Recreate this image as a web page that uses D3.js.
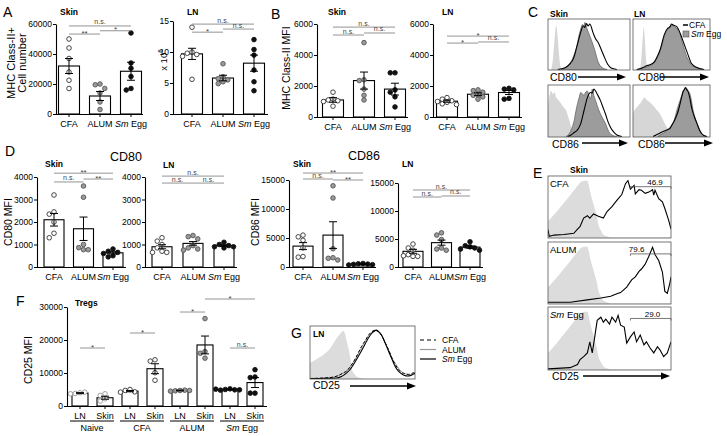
<!DOCTYPE html>
<html><head><meta charset="utf-8">
<script src="https://cdn.jsdelivr.net/npm/d3@7"></script>
<style>body{margin:0;background:#fff}svg{display:block}text{font-family:"Liberation Sans",Arial,Helvetica,sans-serif}</style>
</head><body>
<script>
// ---------------- DATA ----------------
const groups3 = ["CFA","ALUM","Sm Egg"];

// A: MHC Class-II+ cell number
const aSkinTicks=[0,20000,40000,60000];
const aSkinMean=[32000,12000,28500];
const aSkinSem=[5000,3000,6000];
const aSkinPts=[[50000,44000,37000,28000,22500,17000],[20000,19500,17000,14000,8000,3000],[54000,34000,30500,25000,17000,16000]];
const aSkinSig=[[0,2,58700,"n.s."],[0,1,53300,"**"],[1,2,55500,"*"]];

const aLnTicks=[0,5,10,15];
const aLnMean=[9.7,5.8,8.2];
const aLnSem=[0.9,0.45,1.3];
const aLnPts=[[14,10,9.8,9.6,9.3,5.6],[8.1,6,5.7,5.5,5.2,4.9],[12,10.4,9.5,7.1,5.2,3.75]];
const aLnSig=[[0,2,14.5,"n.s."],[0,1,13.2,"*"],[1,2,13.7,"n.s."]];

// B: MHC Class-II MFI
const bTicks=[0,2000,4000,6000];
const bSkinMean=[1100,2350,1800];
const bSkinSem=[150,550,380];
const bSkinPts=[[1600,1150,1100,1050,1000,700],[4800,2400,2350,1800,1400,1100],[2850,2850,1750,1600,1300,650]];
const bSkinSig=[[0,2,5800,"n.s."],[0,1,5290,"n.s."],[1,2,5420,"n.s."]];
const bLnMean=[1020,1470,1580];
const bLnSem=[70,90,130];
const bLnPts=[[1250,1150,1050,1000,950,850,800],[1750,1700,1600,1450,1400,1300,1150],[1850,1800,1750,1200,1150]];
const bLnSig=[[0,2,5220,"*"],[0,1,4770,"*"],[1,2,4840,"n.s."]];

// D: CD80 / CD86 MFI
const d80Ticks=[0,1000,2000,3000,4000];
const d80SkinMean=[2100,1700,630];
const d80SkinSem=[280,520,50];
const d80SkinPts=[[3200,2450,2350,2000,1500,1300],[3600,3100,1000,860,770,770],[800,700,650,600,500,450]];
const d80SkinSig=[[0,2,4170,"**"],[0,1,3780,"n.s."],[1,2,3910,"**"]];
const d80LnMean=[900,1050,950];
const d80LnSem=[90,80,40];
const d80LnPts=[[1300,1150,1000,850,700,650,650],[1400,1350,1250,950,850,800,750],[1100,1000,950,900,900,850]];
const d80LnSig=[[0,2,4040,"n.s."],[0,1,3730,"n.s."],[1,2,3730,"n.s."]];
const d86Ticks=[0,5000,10000,15000];
const d86SkinMean=[3600,5500,450];
const d86SkinSem=[600,2300,80];
const d86SkinPts=[[5500,5200,4600,3300,1800,1700],[14000,11900,3150,1600,1500,1200],[600,550,500,450,400,350]];
const d86SkinSig=[[0,2,16200,"**"],[0,1,15170,"n.s."],[1,2,15000,"**"]];
const d86LnMean=[2800,4350,3550];
const d86LnSem=[350,450,200];
const d86LnPts=[[4100,3400,3000,2200,1900,1900,2000],[6100,5700,4900,3400,3200,3000],[4500,3800,3600,3400,3200,3000]];
const d86LnSig=[[0,2,13750,"n.s."],[0,1,12500,"n.s."],[1,2,12680,"n.s."]];

// F: CD25 MFI Tregs
const fGroups=["Naive","CFA","ALUM","Sm Egg"];
const fTissues=["LN","Skin","LN","Skin","LN","Skin","LN","Skin"];
const fTicks=[0,10000,20000,30000];
const fMean=[3900,2500,4500,11300,4700,18500,5000,7100];
const fSem=[150,450,200,1500,100,2700,100,1500];
const fPts=[[4000,3800,4200,3700],[3700,3200,2200,1500],[5000,4700,4300,4200],[14000,13600,10100,7800],[4700,4600,4800,4500,4700],[26500,16500,16000,14500],[5200,5000,4900,4800,4900,5100],[11000,8800,8600,3900,3900]];
const fSig=[[0,1,17570,"*"],[2,3,22120,"*"],[4,5,28480,"*"],[5,7,32420,"*"],[6,7,17570,"n.s."]];

// C: histograms [channel %, count % of max]
const cSkinCD80Iso=[[4,0],[6,20],[8,60],[10,89],[12,60],[14,20],[16,0]];
const cSkinCD80Sm=[[16,0],[22,4],[27,13],[31,26],[35,46],[38,70],[40,82],[42,91],[44,88],[45,95],[47,85],[49,76],[53,59],[57,39],[61,16],[66,4],[72,0]];
const cSkinCD80CFA=[[12,0],[20,3],[27,12],[31,22],[35,45],[39,70],[43,88],[45,85],[47,93],[49,88],[51,92],[55,74],[58,62],[61,55],[65,40],[69,24],[73,10],[77,3],[84,0]];
const cLnCD80Iso=[[9,0],[11,25],[13,70],[14,86],[15,70],[17,20],[19,0]];
const cLnCD80Sm=[[5,0],[12,3],[22,7],[30,20],[37,46],[41,69],[46,82],[50,90],[54,87],[58,80],[61,72],[64,55],[67,39],[74,13],[83,3],[92,0]];
const cLnCD80CFA=[[5,0],[10,2],[17,7],[24,11],[28,16],[32,28],[35,39],[41,72],[45,83],[48,86],[50,92],[52,90],[57,86],[60,78],[63,66],[70,36],[76,12],[83,4],[92,0]];
const cSkinCD86Iso=[[0,60],[2,82],[4,90],[6,84],[8,88],[10,77],[13,72],[16,65],[19,58],[22,52],[24,42],[26,32],[28,20],[30,12],[33,4],[37,0]];
const cSkinCD86Sm=[[22,0],[26,6],[29,16],[32,32],[34,50],[36,65],[38,77],[40,87],[42,84],[44,82],[46,88],[48,90],[50,80],[52,75],[54,94],[56,80],[58,71],[62,52],[66,38],[70,26],[74,10],[78,3],[84,0]];
const cSkinCD86CFA=[[24,0],[28,3],[32,8],[36,13],[40,26],[44,52],[48,77],[52,87],[54,86],[56,94],[58,90],[60,84],[64,71],[67,58],[70,45],[73,30],[76,19],[80,9],[84,3],[90,0]];
const cLnCD86Iso=[[0,45],[2,52],[5,58],[9,65],[12,72],[15,77],[18,72],[22,68],[25,63],[28,58],[31,52],[35,45],[38,36],[41,26],[45,16],[48,10],[52,3],[57,0]];
const cLnCD86Sm=[[32,0],[35,3],[40,7],[43,10],[48,18],[52,26],[55,40],[57,52],[59,62],[61,71],[63,80],[65,90],[67,94],[69,96],[70,95],[72,90],[74,84],[76,70],[78,52],[81,35],[85,19],[88,9],[91,3],[96,0]];
const cLnCD86CFA=[[26,0],[30,3],[35,7],[39,10],[44,13],[48,16],[51,24],[54,32],[57,43],[59,52],[61,64],[63,77],[65,88],[67,94],[68,97],[70,92],[72,87],[74,75],[76,58],[79,42],[83,26],[86,14],[89,6],[92,2],[96,0]];

// E: CD25 skin histograms
const eIso=[[0,27],[5,38],[10,50],[14,60],[18,70],[22,80],[25,88],[27,92],[29,94],[32,94],[33,88],[34,78],[36,62],[38,48],[40,32],[41,21],[43,12],[45,5],[48,2],[51,0],[100,0]];
const eCFA=[[0,13],[1,2],[5,4],[13,5],[21,7],[24,14],[26,18],[29,32],[32,36],[34,32],[37,39],[41,35],[45,32],[48,43],[52,51],[55,59],[57,64],[60,71],[63,89],[65,94],[67,80],[70,86],[71,72],[74,79],[76,78],[79,73],[82,75],[85,79],[86,70],[87,78],[90,64],[93,59],[95,48],[98,29],[100,14]];
const eALUM=[[0,2],[18,2],[32,6],[43,9],[51,12],[56,16],[59,18],[64,27],[68,39],[71,44],[74,53],[76,57],[79,65],[82,78],[85,93],[87,81],[90,71],[93,52],[95,20],[97,17],[99,33],[100,44]];
const eSm=[[0,1],[18,3],[24,8],[26,16],[29,21],[32,27],[34,45],[36,27],[38,53],[40,80],[43,85],[45,77],[47,82],[50,74],[52,85],[55,77],[57,88],[59,72],[62,69],[64,43],[67,53],[70,61],[72,45],[75,56],[78,40],[80,45],[83,35],[86,27],[89,37],[91,32],[94,21],[97,27],[100,45]];
const eGates=[[67,100,87,"46.9"],[67,100,72,"79.6"],[67,100,85,"29.0"]];

// G: LN CD25 histograms
const gIso=[[0,30],[5,36],[10,42],[15,50],[19,58],[22,67],[25,77],[28,85],[30,90],[32,92],[33,89],[35,72],[37,55],[39,32],[40,17],[43,7],[46,2],[51,0]];
const gSm=[[0,0],[25,1],[30,4],[35,11],[38,17],[41,26],[44,36],[48,50],[51,61],[54,73],[57,83],[60,90],[63,94],[65,92],[68,85],[71,72],[75,52],[78,38],[81,24],[84,15],[86,11],[90,6],[93,5],[96,6],[98,8],[100,10]];
const gCFA=[[0,0],[20,2],[26,5],[31,10],[35,15],[39,25],[43,38],[46,50],[49,62],[53,75],[56,85],[59,91],[62,94],[65,91],[68,84],[71,72],[75,55],[78,40],[81,28],[84,18],[87,12],[91,9],[94,8],[97,10],[100,12]];
const gALUM=[[0,0],[20,2],[26,5],[31,10],[37,18],[40,28],[44,40],[47,52],[50,63],[53,74],[56,84],[59,90],[62,93],[65,90],[68,84],[71,71],[75,55],[78,40],[82,27],[85,18],[88,12],[91,9],[94,7],[97,8],[100,9]];

// ---------------- DRAWING ----------------
const FONT='"Liberation Sans",Arial,Helvetica,sans-serif';
const svg=d3.select("body").append("svg").attr("width",727).attr("height",436);
const defs=svg.append("defs");
const ptStyle={"CFA":{f:"#fff",s:"#333"},"ALUM":{f:"#9a9a9a",s:"#555"},"Sm Egg":{f:"#111",s:"#111"},"Naive":{f:"#fff",s:"#9a9a9a"}};

function label(g,x,y,txt,size,opt={}){
  const t=g.append("text").attr("x",x).attr("y",y).attr("font-size",size).attr("text-anchor",opt.anchor||"start");
  if(opt.bold) t.attr("font-weight","bold");
  if(opt.rot) t.attr("transform",`rotate(-90,${x},${y})`);
  if(txt.startsWith("Sm ")){t.append("tspan").attr("font-style","italic").text("Sm");t.append("tspan").text(" "+txt.slice(3));}
  else t.text(txt);
  return t;
}
function dodge(ys,r){
  const placed=[],out=[];
  ys.forEach(y=>{
    let off=0;
    for(let k=0;k<14;k++){
      const c=k===0?0:(k%2?-1:1)*Math.ceil(k/2)*(r*1.9);
      if(placed.every(p=>Math.hypot(p[0]-c,p[1]-y)>=2*r-0.4)){off=c;break;}
    }
    placed.push([off,y]);out.push(off);
  });
  return out;
}
function barPanel(o){
  const g=svg.append("g");
  const n=o.mean.length;
  const y=d3.scaleLinear().domain([0,o.max]).range([o.yb,o.yt]);
  const x=d3.scalePoint().domain(d3.range(n)).range([o.c0,o.c1]);
  g.selectAll("rect.bar").data(o.mean).join("rect").attr("class","bar")
    .attr("x",(d,i)=>x(i)-o.bw/2).attr("y",d=>y(d)).attr("width",o.bw).attr("height",d=>o.yb-y(d))
    .attr("fill","#fff").attr("stroke","#000").attr("stroke-width",1.1);
  o.pts.forEach((arr,i)=>{
    const st=ptStyle[o.style[i]];
    const offs=dodge(arr.map(v=>y(v)),2.5);
    g.selectAll(null).data(arr).join("circle").attr("cx",(d,j)=>x(i)+offs[j]).attr("cy",d=>y(d))
      .attr("r",2.3).attr("fill",st.f).attr("stroke",st.s).attr("stroke-width",0.9);
  });
  o.mean.forEach((m,i)=>{
    const cx=x(i),s=o.sem[i];
    g.append("line").attr("x1",cx).attr("x2",cx).attr("y1",y(m-s)).attr("y2",y(m+s)).attr("stroke","#000").attr("stroke-width",1);
    [m-s,m+s].forEach(v=>g.append("line").attr("x1",cx-4).attr("x2",cx+4).attr("y1",y(v)).attr("y2",y(v)).attr("stroke","#000").attr("stroke-width",1));
  });
  const ax=g.append("g").attr("transform",`translate(${o.x0},0)`)
    .call(d3.axisLeft(y).tickValues(o.ticks).tickSize(3).tickSizeOuter(0).tickPadding(1).tickFormat(d=>d));
  ax.attr("font-family",FONT).attr("font-size",8.5);
  ax.select(".domain").attr("stroke","#000").attr("stroke-width",1.1);
  g.append("line").attr("x1",o.x0).attr("x2",o.x1).attr("y1",o.yb+0.5).attr("y2",o.yb+0.5).attr("stroke","#000").attr("stroke-width",1.1);
  d3.range(n).forEach(i=>{
    g.append("line").attr("x1",x(i)).attr("x2",x(i)).attr("y1",o.yb).attr("y2",o.yb+3).attr("stroke","#000");
    label(g,x(i),o.yb+13,o.cats[i],9,{anchor:"middle"});
  });
  o.sig.forEach(([a,b,v,t])=>{
    const yy=y(v);
    g.append("line").attr("x1",x(a)).attr("x2",x(b)).attr("y1",yy).attr("y2",yy).attr("stroke","#888").attr("stroke-width",0.9);
    g.append("text").attr("x",(x(a)+x(b))/2).attr("y",t==="n.s."?yy-1.5:yy+1.5).attr("text-anchor","middle")
      .attr("font-size",t==="n.s."?7:8).attr("fill","#444").text(t);
  });
  if(o.title) label(g,o.tx,o.ty,o.title,8.5,{bold:true});
  return {g,x,y};
}
const s3=groups3;
barPanel({x0:56,x1:143,c0:69,c1:131,bw:21,yb:114,yt:24,max:60000,ticks:aSkinTicks,cats:groups3,style:s3,mean:aSkinMean,sem:aSkinSem,pts:aSkinPts,sig:aSkinSig,title:"Skin",tx:60,ty:15});
barPanel({x0:173,x1:268,c0:192,c1:254,bw:21,yb:114,yt:21,max:15,ticks:aLnTicks,cats:groups3,style:s3,mean:aLnMean,sem:aLnSem,pts:aLnPts,sig:aLnSig,title:"LN",tx:187,ty:15});
barPanel({x0:317,x1:408,c0:333,c1:395,bw:21,yb:117,yt:24,max:6000,ticks:bTicks,cats:groups3,style:s3,mean:bSkinMean,sem:bSkinSem,pts:bSkinPts,sig:bSkinSig,title:"Skin",tx:328,ty:15});
barPanel({x0:433,x1:522,c0:447,c1:509,bw:21,yb:117,yt:24,max:6000,ticks:bTicks,cats:groups3,style:s3,mean:bLnMean,sem:bLnSem,pts:bLnPts,sig:bLnSig,title:"LN",tx:442,ty:15});
barPanel({x0:37,x1:126,c0:54,c1:113,bw:20,yb:267,yt:177,max:4000,ticks:d80Ticks,cats:groups3,style:s3,mean:d80SkinMean,sem:d80SkinSem,pts:d80SkinPts,sig:d80SkinSig,title:"Skin",tx:45,ty:167});
barPanel({x0:145,x1:237,c0:162,c1:224,bw:20,yb:267,yt:177,max:4000,ticks:d80Ticks,cats:groups3,style:s3,mean:d80LnMean,sem:d80LnSem,pts:d80LnPts,sig:d80LnSig,title:"LN",tx:163,ty:168});
barPanel({x0:289,x1:376,c0:303,c1:363,bw:20,yb:267,yt:180,max:15000,ticks:d86Ticks,cats:groups3,style:s3,mean:d86SkinMean,sem:d86SkinSem,pts:d86SkinPts,sig:d86SkinSig,title:"Skin",tx:293,ty:167});
barPanel({x0:398,x1:483,c0:413,c1:470,bw:20,yb:267,yt:183,max:15000,ticks:d86Ticks,cats:groups3,style:s3,mean:d86LnMean,sem:d86LnSem,pts:d86LnPts,sig:d86LnSig,title:"LN",tx:402,ty:167});
const fp=barPanel({x0:67,x1:267,c0:80,c1:255,bw:16,yb:406,yt:307,max:30000,ticks:fTicks,cats:fTissues,style:fTissues.map((t,i)=>fGroups[Math.floor(i/2)]),mean:fMean,sem:fSem,pts:fPts,sig:fSig,title:"Tregs",tx:75,ty:306});
fGroups.forEach((gname,k)=>{
  const xa=fp.x(2*k)-10,xb=fp.x(2*k+1)+9;
  fp.g.append("line").attr("x1",xa).attr("x2",xb).attr("y1",421).attr("y2",421).attr("stroke","#000").attr("stroke-width",1);
  label(fp.g,(xa+xb)/2,431,gname,9,{anchor:"middle"});
});

// axis titles & panel letters
const ann=svg.append("g");
label(ann,15,63,"MHC Class-II+",11,{anchor:"middle",rot:true});
label(ann,26,63,"Cell number",11,{anchor:"middle",rot:true});
const t6=ann.append("text").attr("x",167).attr("y",60).attr("font-size",9.5).attr("text-anchor","middle").attr("transform","rotate(-90,167,60)");
t6.append("tspan").text("x 10");t6.append("tspan").attr("font-size",6.5).attr("dy",-4).text("6");
label(ann,290,68,"MHC Class-II MFI",10.5,{anchor:"middle",rot:true});
label(ann,12,222,"CD80 MFI",10.5,{anchor:"middle",rot:true});
label(ann,259,222,"CD86 MFI",10.5,{anchor:"middle",rot:true});
label(ann,32,360,"CD25 MFI",10.5,{anchor:"middle",rot:true});
label(ann,126,161,"CD80",12.5,{anchor:"middle"});
label(ann,364,160,"CD86",12.5,{anchor:"middle"});
[["A",3,17],["B",271,19],["C",528,17],["D",5,156],["E",533,178],["F",16,306],["G",291,338]].forEach(([l,x,y])=>label(ann,x,y,l,14));

// ---------------- HISTOGRAMS ----------------
let clipN=0;
function histBox(o){
  const g=svg.append("g");
  const id="clip"+(clipN++);
  defs.append("clipPath").attr("id",id).append("rect").attr("x",o.x0).attr("y",o.y0).attr("width",o.x1-o.x0).attr("height",o.y1-o.y0);
  const x=d3.scaleLinear().domain([0,100]).range([o.x0,o.x1]);
  const y=d3.scaleLinear().domain([0,100]).range([o.y1-0.5,o.y0+1]);
  const gc=g.append("g").attr("clip-path",`url(#${id})`);
  o.layers.forEach(L=>{
    const curve=L.curve||d3.curveMonotoneX;
    if(L.type==="area"){
      gc.append("path").datum(L.data).attr("d",d3.area().x(d=>x(d[0])).y0(o.y1).y1(d=>y(d[1])).curve(curve))
        .attr("fill",L.fill).attr("stroke",L.stroke||"none").attr("stroke-width",L.sw||0.8);
    } else {
      gc.append("path").datum(L.data).attr("d",d3.line().x(d=>x(d[0])).y(d=>y(d[1])).curve(curve))
        .attr("fill","none").attr("stroke",L.stroke).attr("stroke-width",L.sw||1.1).attr("stroke-dasharray",L.dash||null);
    }
  });
  g.append("rect").attr("x",o.x0).attr("y",o.y0).attr("width",o.x1-o.x0).attr("height",o.y1-o.y0).attr("fill","none").attr("stroke","#555").attr("stroke-width",0.8);
  return {g,x,y};
}
function arrow(x1,x2,yy){
  svg.append("line").attr("x1",x1).attr("x2",x2-6).attr("y1",yy).attr("y2",yy).attr("stroke","#000").attr("stroke-width",1.4);
  svg.append("path").attr("d",`M${x2},${yy}L${x2-9},${yy-3.5}L${x2-9},${yy+3.5}Z`).attr("fill","#000");
}
const ISO="#d6d6d6",SMF="#9c9c9c";
const cLayers=(iso,sm,cfa)=>[{type:"area",data:iso,fill:ISO},{type:"area",data:sm,fill:SMF,stroke:"#666"},{type:"line",data:cfa,stroke:"#000",sw:1.1}];
histBox({x0:548,x1:630,y0:19,y1:70,layers:cLayers(cSkinCD80Iso,cSkinCD80Sm,cSkinCD80CFA)});
histBox({x0:633,x1:710,y0:19,y1:70,layers:cLayers(cLnCD80Iso,cLnCD80Sm,cLnCD80CFA)});
histBox({x0:548,x1:630,y0:85,y1:137,layers:cLayers(cSkinCD86Iso,cSkinCD86Sm,cSkinCD86CFA)});
histBox({x0:633,x1:710,y0:85,y1:137,layers:cLayers(cLnCD86Iso,cLnCD86Sm,cLnCD86CFA)});
label(svg,550,17,"Skin",8.5,{bold:true});
label(svg,634,17,"LN",8.5,{bold:true});
label(svg,550,81,"CD80",10.5);arrow(578,626,77);
label(svg,638,81,"CD80",10.5);arrow(660,709,77);
label(svg,552,148,"CD86",10.5);arrow(582,628,143);
label(svg,638,148,"CD86",10.5);arrow(665,713,143);
// C legend
svg.append("line").attr("x1",683).attr("x2",688).attr("y1",25).attr("y2",25).attr("stroke","#000").attr("stroke-width",1.5);
label(svg,689,28,"CFA",8.5);
svg.append("rect").attr("x",683).attr("y",31).attr("width",6).attr("height",6).attr("fill",SMF).attr("stroke","#555").attr("stroke-width",0.6);
label(svg,691,37,"Sm Egg",8.5);

// E
const eBoxes=[[176,238,eCFA,"CFA"],[242,304,eALUM,"ALUM"],[307,370,eSm,"Sm Egg"]];
eBoxes.forEach(([y0,y1,dat,name],i)=>{
  const h=histBox({x0:548,x1:671,y0,y1,layers:[{type:"area",data:eIso,fill:"#dcdcdc"},{type:"line",data:dat,stroke:"#000",sw:1.1,curve:d3.curveLinear}]});
  label(h.g,550,y0+11,name,9.5);
  const [ga,gb,tx,txt]=eGates[i];
  const gy=h.y([84,82,83][i]);
  h.g.append("path").attr("d",`M${h.x(ga)},${gy+2}V${gy}H${h.x(gb)}V${gy+2}`).attr("fill","none").attr("stroke","#555").attr("stroke-width",0.8);
  label(h.g,h.x(tx),gy-1.5,txt,8,{anchor:"middle"});
});
label(svg,570,173,"Skin",8.5,{bold:true});
label(svg,552,380,"CD25",10.5);arrow(583,670,376);

// G
histBox({x0:310,x1:415,y0:326,y1:379,layers:[{type:"area",data:gIso,fill:"#dcdcdc"},{type:"line",data:gALUM,stroke:"#999",sw:1},{type:"line",data:gCFA,stroke:"#000",sw:1,dash:"3,2"},{type:"line",data:gSm,stroke:"#000",sw:1.1}]});
label(svg,313,337,"LN",8.5,{bold:true});
label(svg,313,389,"CD25",10.5);arrow(350,416,386);
[["CFA","#000","4,3"],["ALUM","#999",null],["Sm Egg","#000",null]].forEach(([n,c,dash],i)=>{
  const yy=340+i*9.5;
  svg.append("line").attr("x1",420).attr("x2",436).attr("y1",yy).attr("y2",yy).attr("stroke",c).attr("stroke-width",1.2).attr("stroke-dasharray",dash);
  label(svg,442,yy+3,n,8.5);
});
</script></body></html>
